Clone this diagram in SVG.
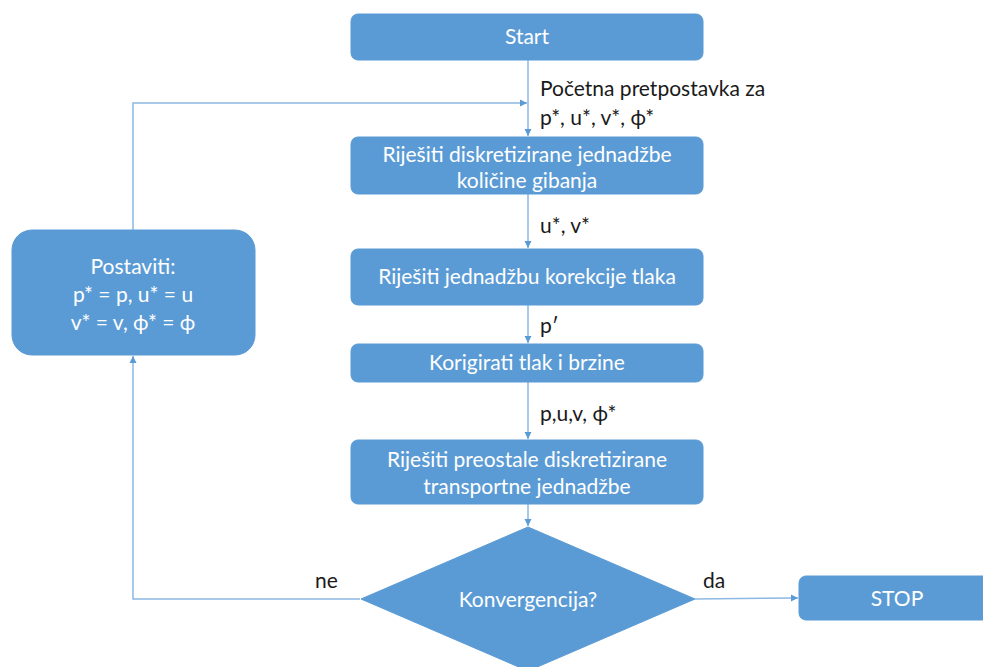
<svg xmlns="http://www.w3.org/2000/svg" width="983" height="667" viewBox="0 0 983 667">
<style>
.box{fill:#5B9BD5;stroke:#5B9BD5;stroke-width:1}
.bt{font-family:Lato,"Open Sans","Liberation Sans",sans-serif;font-size:21px;fill:#ffffff;text-anchor:middle}
.lb{font-family:Lato,"Open Sans","Liberation Sans",sans-serif;font-size:21px;fill:#1a1a1a}
.ln{fill:none;stroke:#8DB8E3;stroke-width:1.5}
</style>
<defs>
<marker id="ah" markerWidth="8" markerHeight="8" refX="7" refY="4" orient="auto" markerUnits="userSpaceOnUse">
<path d="M0,0.5 L7,4 L0,7.5 z" fill="#5B9BD5"/>
</marker>
</defs>
<rect width="983" height="667" fill="#ffffff"/>
<g id="connectors">
<line class="ln" x1="528" y1="60" x2="528" y2="136" marker-end="url(#ah)"/>
<polyline class="ln" points="133,230 133,103 527,103" marker-end="url(#ah)"/>
<line class="ln" x1="528" y1="194" x2="528" y2="248" marker-end="url(#ah)"/>
<line class="ln" x1="528" y1="305" x2="528" y2="343" marker-end="url(#ah)"/>
<line class="ln" x1="528" y1="382" x2="528" y2="439" marker-end="url(#ah)"/>
<line class="ln" x1="528" y1="504" x2="528" y2="526" marker-end="url(#ah)"/>
<polyline class="ln" points="360,599 133,599 133,356" marker-end="url(#ah)"/>
<line class="ln" x1="695" y1="599" x2="798" y2="598" marker-end="url(#ah)"/>
<text class="lb" x="540" y="96">Početna pretpostavka za</text>
<text class="lb" x="540" y="125">p*, u*, v*, ϕ*</text>
<text class="lb" x="540" y="233">u*, v*</text>
<text class="lb" x="540" y="333">p′</text>
<text class="lb" x="540" y="421">p,u,v, ϕ*</text>
<text class="lb" x="315" y="588">ne</text>
<text class="lb" x="703" y="588">da</text>
</g>
<g id="start">
<rect class="box" x="351" y="14" width="352" height="46" rx="7"/>
<text class="bt" x="527" y="44">Start</text>
</g>
<g id="momentum">
<rect class="box" x="351" y="137" width="352" height="57" rx="7"/>
<text class="bt" x="527" y="162">Riješiti diskretizirane jednadžbe</text>
<text class="bt" x="527" y="188">količine gibanja</text>
</g>
<g id="pressure">
<rect class="box" x="351" y="249" width="352" height="56" rx="7"/>
<text class="bt" x="527" y="284">Riješiti jednadžbu korekcije tlaka</text>
</g>
<g id="correct">
<rect class="box" x="351" y="344" width="352" height="38" rx="7"/>
<text class="bt" x="527" y="370">Korigirati tlak i brzine</text>
</g>
<g id="transport">
<rect class="box" x="351" y="440" width="352" height="64" rx="7"/>
<text class="bt" x="527" y="467">Riješiti preostale diskretizirane</text>
<text class="bt" x="527" y="494">transportne jednadžbe</text>
</g>
<g id="convergence">
<polygon class="box" points="528,527 695,599 528,671 361,599"/>
<text class="bt" x="528" y="607">Konvergencija?</text>
</g>
<g id="stop">
<rect class="box" x="799" y="576" width="200" height="44" rx="7"/>
<text class="bt" x="897" y="606">STOP</text>
</g>
<g id="update">
<rect class="box" x="12" y="230" width="243" height="125" rx="20"/>
<text class="bt" x="133" y="274">Postaviti:</text>
<text class="bt" x="133" y="302">p* = p, u* = u</text>
<text class="bt" x="133" y="330">v* = v, ϕ* = ϕ</text>
</g>
</svg>
